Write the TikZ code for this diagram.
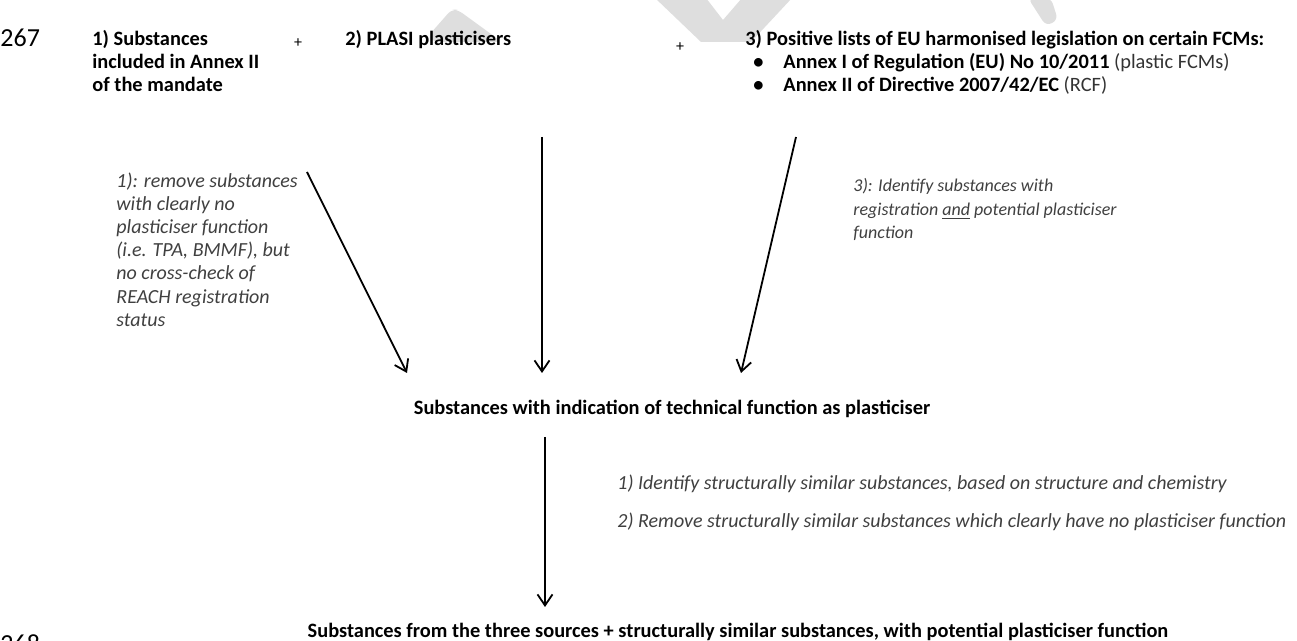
\documentclass[tikz,border=0pt]{standalone}
\usepackage{fontspec}
\setmainfont{Carlito}
\usetikzlibrary{arrows.meta, positioning}

\begin{document}
\begin{tikzpicture}[
    x=0.5pt, y=-0.5pt,
    source/.style={font=\bfseries\fontsize{10.2}{11.4}\selectfont, align=left, anchor=north west, inner sep=0pt},
    note/.style={font=\itshape\fontsize{10}{11.6}\selectfont, text=black!75, align=left, anchor=north west, inner sep=0pt},
    result/.style={font=\bfseries\fontsize{10.2}{11.6}\selectfont, inner sep=0pt},
    plus/.style={font=\fontsize{8}{9}\selectfont, inner sep=0pt},
    lineno/.style={font=\fontsize{13}{15}\selectfont, anchor=west, inner sep=0pt},
    wm/.style={fill=black!13, rounded corners=3pt},
    arrow/.style={-{Straight Barb[length=5.5pt,width=7.5pt]}, line width=0.9pt}
]
\useasboundingbox (0,0) rectangle (1297,641);

% Watermark
\fill[wm] (432,42) -- (430,34) -- (452,9) -- (458,10) -- (502,42) -- cycle;
\fill[wm, sharp corners] (655,-2) -- (701,42) -- (751,42) -- (792,-2) -- (742,-2) -- (723,20) -- (706,-2) -- cycle;
\fill[wm] (1028,-2) -- (1046,26) -- (1058,20) -- (1051,-2) -- cycle;

% Line numbers
\node[lineno] (l267) at (0,38) {267};
\node[lineno, anchor=north west] (l268) at (0,634) {268};

% Sources
\node[source] (src1) at (92,30) {1) Substances\\included in Annex II\\of the mandate};
\node[plus] (plusA) at (298,43) {+};
\node[source] (src2) at (345,30) {2) PLASI plasticisers};
\node[plus] (plusB) at (680,47) {+};
\node[source] (src3) at (745,30) {3) Positive lists of EU harmonised legislation on certain FCMs:\\
  \hspace*{4pt}\makebox[15pt][l]{\textbullet}Annex I of Regulation (EU) No 10/2011 {\mdseries\color{black!80}(plastic FCMs)}\\
  \hspace*{4pt}\makebox[15pt][l]{\textbullet}Annex II of Directive 2007/42/EC {\mdseries\color{black!80}(RCF)}};

% Notes on the arrows
\node[note] (note1) at (116,172) {1): remove substances\\with clearly no\\plasticiser function\\(i.e. TPA, BMMF), but\\no cross-check of\\REACH registration\\status};
\node[note, font=\itshape\fontsize{9}{11.75}\selectfont] (note3) at (853,178) {3): Identify substances with\\registration \underline{and} potential plasticiser\\function};

% Results
\node[result] (indication) at (672,409) {Substances with indication of technical function as plasticiser};
\node[result] (merged) at (738,632) {Substances from the three sources + structurally similar substances, with potential plasticiser function};

% Steps
\node[note] (step1) at (617,474) {1) Identify structurally similar substances, based on structure and chemistry};
\node[note, below=10pt of step1.south west, anchor=north west] (step2) {2) Remove structurally similar substances which clearly have no plasticiser function};

% Arrow ends
\coordinate (a1s) at (307,172);
\coordinate (a1e) at (407,373);
\coordinate (a2s) at (542,137);
\coordinate (a2e) at (542,373);
\coordinate (a3s) at (796,137);
\coordinate (a3e) at (741,373);
\coordinate (a4s) at (545,437);
\coordinate (a4e) at (545,607);

% Arrows
\draw[arrow] (a1s) -- (a1e);
\draw[arrow] (a2s) -- (a2e);
\draw[arrow] (a3s) -- (a3e);
\draw[arrow] (a4s) -- (a4e);

\end{tikzpicture}
\end{document}
